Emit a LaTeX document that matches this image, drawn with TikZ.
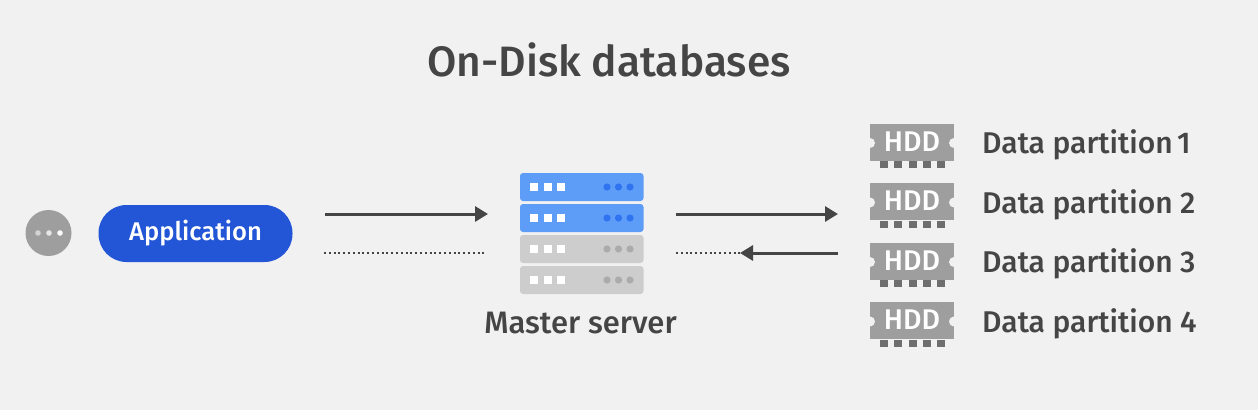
\documentclass[tikz,border=0pt]{standalone}
\usepackage{fontspec}
\setmainfont{Fira Sans Medium}
\newfontfamily\medf{Fira Sans Medium}
\usetikzlibrary{arrows.meta}
\definecolor{bg}{HTML}{F1F1F1}
\definecolor{ink}{HTML}{454545}
\definecolor{appblue}{HTML}{2356D6}
\definecolor{srvblue}{HTML}{5E9DF7}
\definecolor{dotblue}{HTML}{2F73F0}
\definecolor{srvgrey}{HTML}{CDCDCD}
\definecolor{dotgrey}{HTML}{ABABAB}
\definecolor{hddgrey}{HTML}{9E9E9E}
\definecolor{pingrey}{HTML}{6E6E6E}
\tikzset{
  x=1pt,y=-1pt,
  conn/.style={draw=ink,line width=3pt,-{Triangle[length=13pt,width=15pt]}},
  dotconn/.style={draw=ink,line width=2pt,dash pattern=on 2pt off 2.8pt},
  lab/.style={text=ink,font=\medf\fontsize{30}{32}\selectfont,inner sep=0pt,anchor=west},
}
\newcommand{\rack}[3]{% top y, fill, dot colour
  \fill[#2,rounded corners=3pt] (520,#1) rectangle (643.5,#1+28);
  \foreach \sx in {530,543.5,557}{\fill[white] (\sx,#1+10) rectangle (\sx+8,#1+18);}
  \foreach \cx in {607,618.5,630}{\fill[#3] (\cx,#1+14) circle[radius=3.6];}
}
\newcommand{\hdd}[2]{% top y, name
  \fill[hddgrey] (870,#1) rectangle (954,#1+37);
  \fill[bg] (870,#1+19.5) circle[radius=5];
  \fill[bg] (954,#1+19.5) circle[radius=5];
  \foreach \px in {880,894.2,908.5,923,937}{\fill[pingrey] (\px,#1+37.5) rectangle (\px+8,#1+44.5);}
  \node[text=white,font=\medf\fontsize{28.5}{30}\selectfont,inner sep=0pt] (#2) at (912,#1+18) {HDD};
}
\begin{document}
\begin{tikzpicture}
\useasboundingbox (0,0) rectangle (1258,410);
\fill[bg] (0,0) rectangle (1258,410);
\node[text=ink,font=\medf\fontsize{42.5}{45}\selectfont,inner sep=0pt] (title) at (609,60) {On-Disk databases};

\node[circle,fill=hddgrey,minimum size=46pt,inner sep=0pt] (more) at (48.5,233) {};
\fill[white,opacity=.55] (38,233) circle[radius=2.8];
\fill[white,opacity=.75] (49,233) circle[radius=2.8];
\fill[white,opacity=.95] (60,233) circle[radius=2.8];

\node[fill=appblue,rounded corners=28pt,minimum width=194pt,minimum height=57pt,inner sep=0pt,text=white,font=\medf\fontsize{25.6}{28}\selectfont] (app) at (195.5,233.5) {Application};

\rack{173}{srvblue}{dotblue}
\rack{204}{srvblue}{dotblue}
\rack{235}{srvgrey}{dotgrey}
\rack{266}{srvgrey}{dotgrey}
\node[text=ink,font=\medf\fontsize{31}{33}\selectfont,inner sep=0pt] (master) at (580.5,323.5) {Master server};

\hdd{123.5}{h1}
\hdd{183}{h2}
\hdd{242.5}{h3}
\hdd{302}{h4}
\node[lab] (d1) at (982,145) {Data partition\kern-3pt\ 1};
\node[lab] (d2) at (982,204.5) {Data partition 2};
\node[lab] (d3) at (982,264) {Data partition 3};
\node[lab] (d4) at (982,324) {Data partition 4};

\coordinate (a) at (325,214);
\coordinate (b) at (488,214);
\coordinate (c) at (676,214);
\coordinate (d) at (838,214);
\coordinate (e) at (324,253);
\coordinate (f) at (484,253);
\coordinate (g) at (676,253);
\coordinate (h) at (740,253);
\coordinate (i) at (838,253);
\draw[conn] (a) -- (b);
\draw[conn] (c) -- (d);
\draw[dotconn] (e) -- (f);
\draw[dotconn] (g) -- (h);
\draw[conn] (i) -- (h);
\end{tikzpicture}
\end{document}
